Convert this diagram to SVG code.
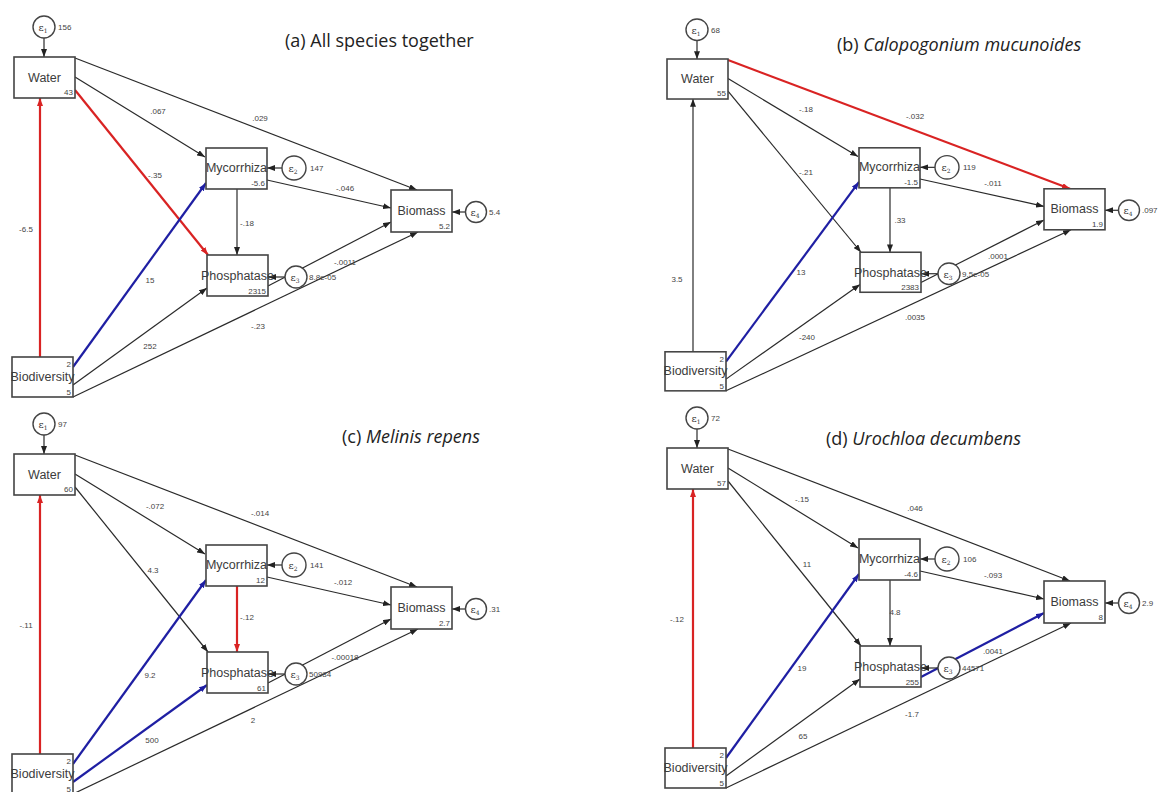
<svg xmlns="http://www.w3.org/2000/svg" width="1172" height="792" viewBox="0 0 1172 792">
<defs>
<marker id="mk" markerUnits="userSpaceOnUse" markerWidth="8" markerHeight="6" refX="8" refY="3" orient="auto"><path d="M0,0 L8,3 L0,6 z" fill="#222"/></marker>
<marker id="mr" markerUnits="userSpaceOnUse" markerWidth="8" markerHeight="6" refX="8" refY="3" orient="auto"><path d="M0,0 L8,3 L0,6 z" fill="#d92323"/></marker>
<marker id="mb" markerUnits="userSpaceOnUse" markerWidth="8" markerHeight="6" refX="8" refY="3" orient="auto"><path d="M0,0 L8,3 L0,6 z" fill="#1f1fa3"/></marker>
</defs>
<style>
.bx{fill:#fff;stroke:#444;stroke-width:1.6}
.ci{fill:#fff;stroke:#444;stroke-width:1.4}
.nt{font-family:"Liberation Sans",Arial,sans-serif;font-size:12.5px;fill:#3c3c3c;text-anchor:middle}
.nv{font-family:"Liberation Sans",Arial,sans-serif;font-size:8px;fill:#444;text-anchor:end}
.ev{font-family:"Liberation Sans",Arial,sans-serif;font-size:8px;fill:#444;text-anchor:start}
.et{font-family:"DejaVu Serif",serif;font-size:10px;fill:#333;text-anchor:middle}
.lb{font-family:"Liberation Sans",Arial,sans-serif;font-size:8px;fill:#444;text-anchor:middle}
.k{stroke:#2a2a2a;stroke-width:1.2;fill:none;marker-end:url(#mk)}
.r{stroke:#d92323;stroke-width:2.2;fill:none;marker-end:url(#mr)}
.b{stroke:#1f1fa3;stroke-width:2.2;fill:none;marker-end:url(#mb)}
.ttl{font-family:"Open Sans",Lato,sans-serif;font-size:18px;fill:#222}
</style>
<rect width="1172" height="792" fill="#fff"/>

<!-- Panel A -->
<g id="panel-a">
<text class="ttl" x="285" y="47">(a) All species together</text>
<g id="a-connectors">
<path class="k" d="M75,77 L205,157"/>
<path class="k" d="M75,58 L417,190"/>
<path class="r" d="M75,90 L208,255"/>
<path class="r" d="M40,357 L40,98"/>
<path class="b" d="M73,367 L206,183"/>
<path class="k" d="M73,385 L207,288"/>
<path class="k" d="M73,397 L418,232"/>
<path class="k" d="M237,189 L237,255"/>
<path class="k" d="M267,180 L391,208"/>
<path class="k" d="M268,286 L391,222"/>
<path class="k" d="M44,38 L44,57"/>
<path class="k" d="M282,168 L267,168"/>
<path class="k" d="M285,277 L268,277"/>
<path class="k" d="M465.5,212 L452,212"/>
<text class="lb" x="158" y="114">.067</text>
<text class="lb" x="260" y="121">.029</text>
<text class="lb" x="155" y="178">-.35</text>
<text class="lb" x="26" y="232">-6.5</text>
<text class="lb" x="150" y="283">15</text>
<text class="lb" x="150" y="349">252</text>
<text class="lb" x="258" y="329">-.23</text>
<text class="lb" x="247" y="226">-.18</text>
<text class="lb" x="345" y="191">-.046</text>
<text class="lb" x="345" y="265">-.0011</text>
</g>
<g id="a-e1"><circle class="ci" cx="44" cy="27" r="11"/><text class="et" x="43" y="31">ε<tspan font-size="6" dy="2">1</tspan></text><text class="ev" x="58" y="30">156</text></g>
<g id="a-water"><rect class="bx" x="14" y="57" width="61" height="41"/><text class="nt" x="44.5" y="82">Water</text><text class="nv" x="73" y="95">43</text></g>
<g id="a-myco"><rect class="bx" x="206" y="148" width="61" height="41"/><text class="nt" x="236.5" y="172">Mycorrhiza</text><text class="nv" x="265" y="186">-5.6</text></g>
<g id="a-e2"><circle class="ci" cx="294" cy="168" r="12"/><text class="et" x="293" y="172">ε<tspan font-size="6" dy="2">2</tspan></text><text class="ev" x="310" y="171">147</text></g>
<g id="a-biomass"><rect class="bx" x="391" y="190" width="61" height="42"/><text class="nt" x="421.5" y="215">Biomass</text><text class="nv" x="450" y="229">5.2</text></g>
<g id="a-e4"><circle class="ci" cx="476" cy="212" r="10.5"/><text class="et" x="475" y="216">ε<tspan font-size="6" dy="2">4</tspan></text><text class="ev" x="489" y="215">5.4</text></g>
<g id="a-phos"><rect class="bx" x="207" y="255" width="61" height="41"/><text class="nt" x="237.5" y="280">Phosphatase</text><text class="nv" x="266" y="294">2315</text></g>
<g id="a-e3"><circle class="ci" cx="296" cy="277" r="11"/><text class="et" x="295" y="281">ε<tspan font-size="6" dy="2">3</tspan></text><text class="ev" x="309" y="280">8.8e-05</text></g>
<g id="a-biodiv"><rect class="bx" x="12" y="357" width="61" height="40"/><text class="nt" x="42.5" y="381">Biodiversity</text><text class="nv" x="71" y="367">2</text><text class="nv" x="71" y="395">5</text></g>
</g>

<!-- Panel B -->
<text class="ttl" x="837" y="51">(b) <tspan font-style="italic">Calopogonium mucunoides</tspan></text>
<g id="panel-b" transform="translate(653,59) scale(1,0.976) translate(0,-57)">
<g id="b-connectors">
<path class="k" d="M75,77 L205,157"/>
<path class="r" d="M75,58 L417,190"/>
<path class="k" d="M75,90 L208,255"/>
<path class="k" d="M40,357 L40,98"/>
<path class="b" d="M73,367 L206,183"/>
<path class="k" d="M73,385 L207,288"/>
<path class="k" d="M73,397 L418,232"/>
<path class="k" d="M237,189 L237,255"/>
<path class="k" d="M267,180 L391,208"/>
<path class="k" d="M268,286 L391,222"/>
<path class="k" d="M44,38 L44,57"/>
<path class="k" d="M282,168 L267,168"/>
<path class="k" d="M285,277 L268,277"/>
<path class="k" d="M465.5,212 L452,212"/>
<text class="lb" x="153" y="111">-.18</text>
<text class="lb" x="262" y="118">-.032</text>
<text class="lb" x="153" y="176">-.21</text>
<text class="lb" x="24" y="285">3.5</text>
<text class="lb" x="148" y="278">13</text>
<text class="lb" x="154" y="345">-240</text>
<text class="lb" x="262" y="324">.0035</text>
<text class="lb" x="247" y="225">.33</text>
<text class="lb" x="340" y="187">-.011</text>
<text class="lb" x="345" y="262">.0001</text>
</g>
<g id="b-e1"><circle class="ci" cx="44" cy="27" r="11"/><text class="et" x="43" y="31">ε<tspan font-size="6" dy="2">1</tspan></text><text class="ev" x="58" y="30">68</text></g>
<g id="b-water"><rect class="bx" x="14" y="57" width="61" height="41"/><text class="nt" x="44.5" y="82">Water</text><text class="nv" x="73" y="95">55</text></g>
<g id="b-myco"><rect class="bx" x="206" y="148" width="61" height="41"/><text class="nt" x="236.5" y="172">Mycorrhiza</text><text class="nv" x="265" y="186">-1.5</text></g>
<g id="b-e2"><circle class="ci" cx="294" cy="168" r="12"/><text class="et" x="293" y="172">ε<tspan font-size="6" dy="2">2</tspan></text><text class="ev" x="310" y="171">119</text></g>
<g id="b-biomass"><rect class="bx" x="391" y="190" width="61" height="42"/><text class="nt" x="421.5" y="215">Biomass</text><text class="nv" x="450" y="229">1.9</text></g>
<g id="b-e4"><circle class="ci" cx="476" cy="212" r="10.5"/><text class="et" x="475" y="216">ε<tspan font-size="6" dy="2">4</tspan></text><text class="ev" x="489" y="215">.097</text></g>
<g id="b-phos"><rect class="bx" x="207" y="255" width="61" height="41"/><text class="nt" x="237.5" y="280">Phosphatase</text><text class="nv" x="266" y="294">2383</text></g>
<g id="b-e3"><circle class="ci" cx="296" cy="277" r="11"/><text class="et" x="295" y="281">ε<tspan font-size="6" dy="2">3</tspan></text><text class="ev" x="309" y="280">9.5e-05</text></g>
<g id="b-biodiv"><rect class="bx" x="12" y="357" width="61" height="40"/><text class="nt" x="42.5" y="381">Biodiversity</text><text class="nv" x="71" y="367">2</text><text class="nv" x="71" y="395">5</text></g>
</g>

<!-- Panel C -->
<text class="ttl" x="342" y="443">(c) <tspan font-style="italic">Melinis repens</tspan></text>
<g id="panel-c" transform="translate(0,397)">
<g id="c-connectors">
<path class="k" d="M75,77 L205,157"/>
<path class="k" d="M75,58 L417,190"/>
<path class="k" d="M75,90 L208,255"/>
<path class="r" d="M40,357 L40,98"/>
<path class="b" d="M73,367 L206,183"/>
<path class="b" d="M73,385 L207,288"/>
<path class="k" d="M73,397 L418,232"/>
<path class="r" d="M237,189 L237,255"/>
<path class="k" d="M267,180 L391,208"/>
<path class="k" d="M268,286 L391,222"/>
<path class="k" d="M44,38 L44,57"/>
<path class="k" d="M282,168 L267,168"/>
<path class="k" d="M285,277 L268,277"/>
<path class="k" d="M465.5,212 L452,212"/>
<text class="lb" x="155" y="112">-.072</text>
<text class="lb" x="260" y="119">-.014</text>
<text class="lb" x="153" y="176">4.3</text>
<text class="lb" x="26" y="231">-.11</text>
<text class="lb" x="150" y="281">9.2</text>
<text class="lb" x="152" y="346">500</text>
<text class="lb" x="253" y="326">2</text>
<text class="lb" x="247" y="223">-.12</text>
<text class="lb" x="343" y="188">-.012</text>
<text class="lb" x="345" y="263">-.00018</text>
</g>
<g id="c-e1"><circle class="ci" cx="44" cy="27" r="11"/><text class="et" x="43" y="31">ε<tspan font-size="6" dy="2">1</tspan></text><text class="ev" x="58" y="30">97</text></g>
<g id="c-water"><rect class="bx" x="14" y="57" width="61" height="41"/><text class="nt" x="44.5" y="82">Water</text><text class="nv" x="73" y="95">60</text></g>
<g id="c-myco"><rect class="bx" x="206" y="148" width="61" height="41"/><text class="nt" x="236.5" y="172">Mycorrhiza</text><text class="nv" x="265" y="186">12</text></g>
<g id="c-e2"><circle class="ci" cx="294" cy="168" r="12"/><text class="et" x="293" y="172">ε<tspan font-size="6" dy="2">2</tspan></text><text class="ev" x="310" y="171">141</text></g>
<g id="c-biomass"><rect class="bx" x="391" y="190" width="61" height="42"/><text class="nt" x="421.5" y="215">Biomass</text><text class="nv" x="450" y="229">2.7</text></g>
<g id="c-e4"><circle class="ci" cx="476" cy="212" r="10.5"/><text class="et" x="475" y="216">ε<tspan font-size="6" dy="2">4</tspan></text><text class="ev" x="489" y="215">.31</text></g>
<g id="c-phos"><rect class="bx" x="207" y="255" width="61" height="41"/><text class="nt" x="237.5" y="280">Phosphatase</text><text class="nv" x="266" y="294">61</text></g>
<g id="c-e3"><circle class="ci" cx="296" cy="277" r="11"/><text class="et" x="295" y="281">ε<tspan font-size="6" dy="2">3</tspan></text><text class="ev" x="309" y="280">50984</text></g>
<g id="c-biodiv"><rect class="bx" x="12" y="357" width="61" height="40"/><text class="nt" x="42.5" y="381">Biodiversity</text><text class="nv" x="71" y="367">2</text><text class="nv" x="71" y="395">5</text></g>
</g>

<!-- Panel D -->
<text class="ttl" x="826" y="445">(d) <tspan font-style="italic">Urochloa decumbens</tspan></text>
<g id="panel-d" transform="translate(653,391)">
<g id="d-connectors">
<path class="k" d="M75,77 L205,157"/>
<path class="k" d="M75,58 L417,190"/>
<path class="k" d="M75,90 L208,255"/>
<path class="r" d="M40,357 L40,98"/>
<path class="b" d="M73,367 L206,183"/>
<path class="k" d="M73,385 L207,288"/>
<path class="k" d="M73,397 L418,232"/>
<path class="k" d="M237,189 L237,255"/>
<path class="k" d="M267,180 L391,208"/>
<path class="b" d="M268,286 L391,222"/>
<path class="k" d="M44,38 L44,57"/>
<path class="k" d="M282,168 L267,168"/>
<path class="k" d="M285,277 L268,277"/>
<path class="k" d="M465.5,212 L452,212"/>
<text class="lb" x="149" y="111">-.15</text>
<text class="lb" x="262" y="120">.046</text>
<text class="lb" x="154" y="176">11</text>
<text class="lb" x="24" y="231">-.12</text>
<text class="lb" x="149" y="280">19</text>
<text class="lb" x="150" y="348">65</text>
<text class="lb" x="259" y="326">-1.7</text>
<text class="lb" x="242" y="224">4.8</text>
<text class="lb" x="340" y="187">-.093</text>
<text class="lb" x="340" y="263">.0041</text>
</g>
<g id="d-e1"><circle class="ci" cx="44" cy="27" r="11"/><text class="et" x="43" y="31">ε<tspan font-size="6" dy="2">1</tspan></text><text class="ev" x="58" y="30">72</text></g>
<g id="d-water"><rect class="bx" x="14" y="57" width="61" height="41"/><text class="nt" x="44.5" y="82">Water</text><text class="nv" x="73" y="95">57</text></g>
<g id="d-myco"><rect class="bx" x="206" y="148" width="61" height="41"/><text class="nt" x="236.5" y="172">Mycorrhiza</text><text class="nv" x="265" y="186">-4.6</text></g>
<g id="d-e2"><circle class="ci" cx="294" cy="168" r="12"/><text class="et" x="293" y="172">ε<tspan font-size="6" dy="2">2</tspan></text><text class="ev" x="310" y="171">106</text></g>
<g id="d-biomass"><rect class="bx" x="391" y="190" width="61" height="42"/><text class="nt" x="421.5" y="215">Biomass</text><text class="nv" x="450" y="229">8</text></g>
<g id="d-e4"><circle class="ci" cx="476" cy="212" r="10.5"/><text class="et" x="475" y="216">ε<tspan font-size="6" dy="2">4</tspan></text><text class="ev" x="489" y="215">2.9</text></g>
<g id="d-phos"><rect class="bx" x="207" y="255" width="61" height="41"/><text class="nt" x="237.5" y="280">Phosphatase</text><text class="nv" x="266" y="294">255</text></g>
<g id="d-e3"><circle class="ci" cx="296" cy="277" r="11"/><text class="et" x="295" y="281">ε<tspan font-size="6" dy="2">3</tspan></text><text class="ev" x="309" y="280">44571</text></g>
<g id="d-biodiv"><rect class="bx" x="12" y="357" width="61" height="40"/><text class="nt" x="42.5" y="381">Biodiversity</text><text class="nv" x="71" y="367">2</text><text class="nv" x="71" y="395">5</text></g>
</g>
</svg>
